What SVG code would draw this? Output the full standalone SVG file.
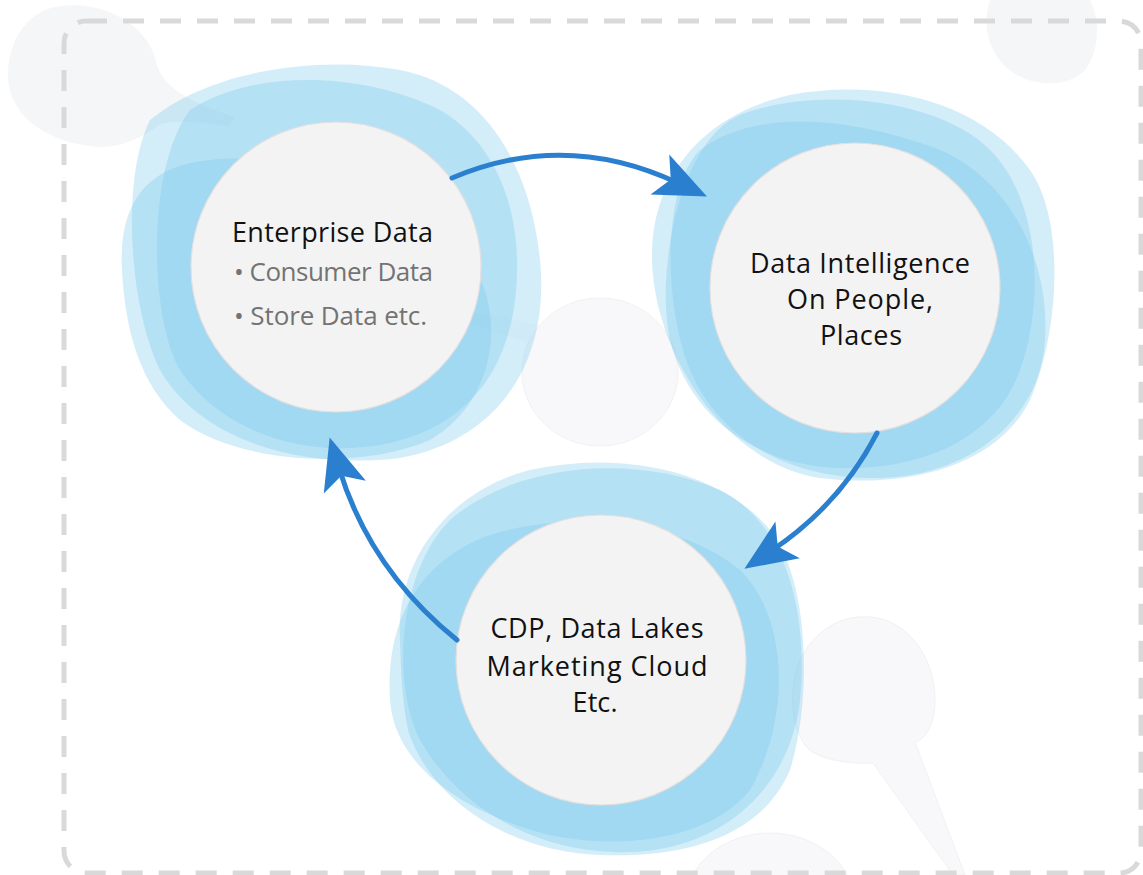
<svg xmlns="http://www.w3.org/2000/svg" width="1143" height="875" viewBox="0 0 1143 875">
  <style>
    .bg { fill: #f5f6f8; }
    .bg-faint { fill: #f8f8fa; stroke: #f1f1f3; stroke-width: 1; }
    .frame { fill: none; stroke: #d9d9d9; stroke-width: 5; stroke-dasharray: 21 16; }
    .halo { fill: #76c7ec; fill-opacity: 0.32; }
    .core { fill: #f3f3f3; stroke: #e4dfdf; stroke-width: 1.2; }
    .flow { fill: none; stroke: #2b7fcf; stroke-width: 5; stroke-linecap: round; }
    .title { font-family: "Open Sans", "Noto Sans", sans-serif; font-size: 27px; fill: #111111; }
    .item { font-family: "Open Sans", "Noto Sans", sans-serif; font-size: 26px; fill: #737373; }
  </style>
  <defs>
    <marker id="head" viewBox="-54 -24 56 48" markerWidth="56" markerHeight="48" markerUnits="userSpaceOnUse" refX="-32" refY="0" orient="auto">
      <path d="M0,0 L-52,-22 L-40,0 L-52,22 Z" fill="#2b7fcf"/>
    </marker>
  </defs>

  <rect width="1143" height="875" fill="#ffffff"/>

  <!-- soft background shapes -->
  <g id="backdrop">
    <path class="bg" d="M60,6 C110,0 150,30 156,62 C160,80 175,92 200,104 L235,118 L228,126 C200,122 180,120 160,124 C140,140 115,150 90,146 C40,140 6,110 8,72 C10,36 30,10 60,6 Z"/>
    <path class="bg" d="M990,0 L1090,0 C1100,20 1100,50 1085,70 C1070,86 1040,88 1015,74 C992,60 980,30 990,0 Z"/>
    <path class="bg" d="M470,312 C500,316 525,322 540,326 L536,345 C515,338 490,330 466,322 Z" fill-opacity="0.4"/>
    <ellipse class="bg-faint" cx="600" cy="372" rx="78" ry="74"/>
    <path class="bg-faint" d="M870,617 C910,620 935,660 935,700 C935,725 925,740 915,742 L965,875 L953,875 L873,763 C855,764 830,762 812,752 C790,735 788,690 800,660 C815,630 840,615 870,617 Z"/>
    <ellipse class="bg-faint" cx="770" cy="905" rx="85" ry="72"/>
  </g>

  <rect class="frame" x="64" y="21" width="1077" height="852" rx="22"/>

  <!-- Enterprise Data -->
  <g id="node-enterprise">
    <path class="halo" d="M150,120 C210,70 320,55 400,70 C480,85 530,160 540,260 C550,360 500,440 400,458 C300,470 200,440 160,370 C130,310 120,180 150,120 Z"/>
    <path class="halo" d="M122,270 C118,200 150,165 210,160 C300,150 400,190 460,250 C510,300 500,400 430,440 C360,470 240,465 180,420 C140,385 125,330 122,270 Z"/>
    <path class="halo" d="M190,110 C250,70 360,70 440,110 C500,145 525,220 515,300 C505,380 460,430 380,445 C300,458 220,430 180,370 C150,320 145,170 190,110 Z"/>
    <circle class="core" cx="336" cy="267" r="145"/>
    <text class="title" x="232" y="242" textLength="201">Enterprise Data</text>
    <text class="item" x="234" y="281" textLength="199">• Consumer Data</text>
    <text class="item" x="234" y="325" textLength="193">• Store Data etc.</text>
  </g>

  <!-- Data Intelligence -->
  <g id="node-intelligence">
    <path class="halo" d="M652,260 C650,180 700,115 790,95 C880,78 980,100 1030,170 C1065,220 1060,330 1030,400 C995,470 900,488 820,478 C730,465 655,360 652,260 Z"/>
    <path class="halo" d="M700,150 C760,105 860,120 940,150 C1010,180 1050,260 1045,340 C1040,420 970,475 880,478 C790,480 720,440 690,370 C665,310 660,190 700,150 Z"/>
    <path class="halo" d="M740,115 C820,85 940,100 990,150 C1040,200 1045,300 1020,370 C995,440 920,470 840,468 C760,466 690,420 670,340 C655,270 680,140 740,115 Z"/>
    <circle class="core" cx="855" cy="288" r="145"/>
    <text class="title" x="860" y="273" text-anchor="middle" textLength="220">Data Intelligence</text>
    <text class="title" x="860" y="309" text-anchor="middle" textLength="146">On People,</text>
    <text class="title" x="861" y="345" text-anchor="middle" textLength="82">Places</text>
  </g>

  <!-- CDP / Data Lakes -->
  <g id="node-platforms">
    <path class="halo" d="M400,640 C395,560 450,490 530,470 C620,450 720,470 770,530 C810,580 812,700 790,770 C760,840 680,858 600,855 C510,852 430,800 408,730 C402,700 401,670 400,640 Z"/>
    <path class="halo" d="M450,520 C520,460 640,455 720,490 C790,525 808,620 800,700 C790,790 720,850 630,852 C540,855 460,810 420,740 C390,680 400,570 450,520 Z"/>
    <path class="halo" d="M390,700 C385,620 420,560 490,535 C570,510 680,520 740,570 C790,620 790,720 750,790 C710,840 620,850 550,835 C470,815 395,770 390,700 Z"/>
    <circle class="core" cx="601" cy="660" r="145"/>
    <text class="title" x="597" y="638" text-anchor="middle" textLength="213">CDP, Data Lakes</text>
    <text class="title" x="597" y="676" text-anchor="middle" textLength="221">Marketing Cloud</text>
    <text class="title" x="595" y="712" text-anchor="middle" textLength="45">Etc.</text>
  </g>

  <!-- cycle arrows -->
  <g id="connectors">
    <path class="flow" d="M452,178 Q565,130 678,183" marker-end="url(#head)"/>
    <path class="flow" d="M877,433 Q840,505 771,551" marker-end="url(#head)"/>
    <path class="flow" d="M457,640 Q370,570 339,468" marker-end="url(#head)"/>
  </g>
</svg>
